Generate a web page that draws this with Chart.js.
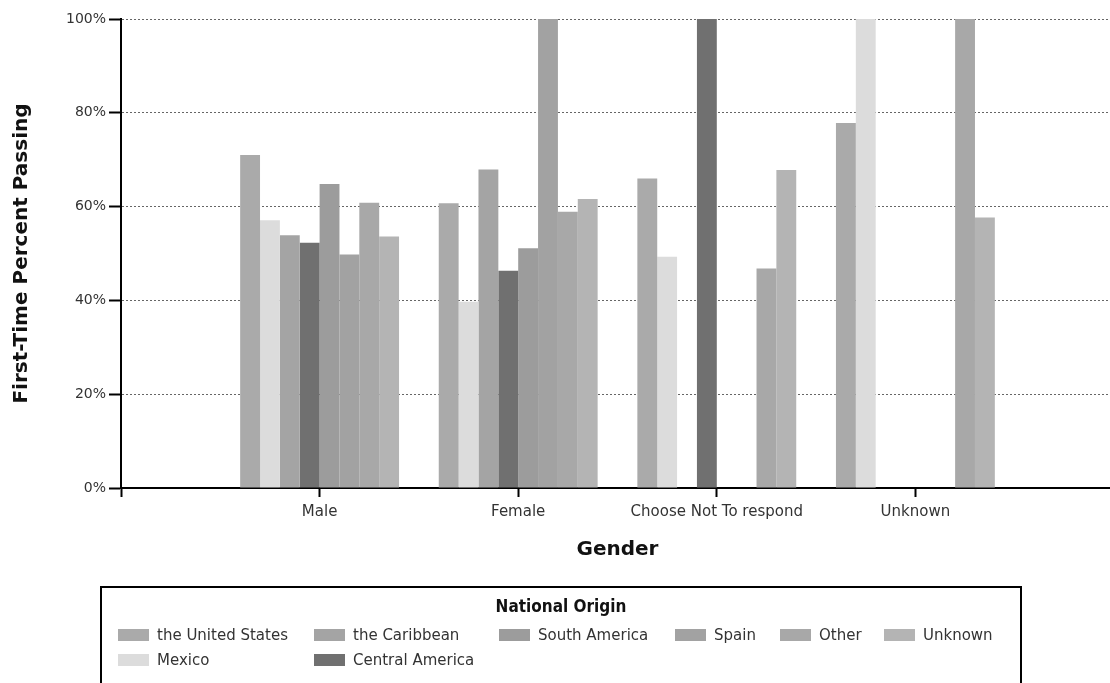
<!DOCTYPE html>
<html>
<head>
<meta charset="utf-8">
<script src="https://cdn.jsdelivr.net/npm/chart.js@4.4.1/dist/chart.umd.min.js"></script>
<style>
  html, body { margin: 0; padding: 0; background: #fff; overflow: hidden; }
  #wrap { position: relative; width: 1120px; height: 683px; }
  #legend { position: absolute; left: 100px; top: 586px; width: 918px; height: 120px;
            border: 2px solid #000; box-sizing: content-box; }
  #legend .ttl { position: absolute; left: 0; width: 100%; top: 8px; text-align: center;
            font-family: "DejaVu Sans Condensed", "Liberation Sans Narrow", "DejaVu Sans", sans-serif;
            font-weight: bold; font-size: 17px; color: #111; line-height: 20px; }
  #legend .sw { position: absolute; width: 31px; height: 12px; }
  #legend .lb { position: absolute; font-family: "DejaVu Sans", sans-serif; font-size: 15px;
            color: #333; line-height: 18px; white-space: nowrap; }
</style>
</head>
<body>
<div id="wrap">
  <canvas id="c" width="1120" height="683"></canvas>
  <div id="legend"><div class="ttl">National Origin</div></div>
</div>
<script>
// ---- data ----
const categories = ['Male', 'Female', 'Choose Not To respond', 'Unknown'];
const seriesNames = ['the United States', 'Mexico', 'the Caribbean', 'Central America',
                     'South America', 'Spain', 'Other', 'Unknown'];
const unitedStates   = [71.0, 60.7, 66.0, 77.8];
const mexico         = [57.1, 39.7, 49.3, 100];
const caribbean      = [53.9, 67.9, null, null];
const centralAmerica = [52.3, 46.3, 100, null];
const southAmerica   = [64.8, 51.1, null, null];
const spain          = [49.8, 100, null, null];
const other          = [60.8, 58.9, 46.8, 100];
const unknownOrigin  = [53.6, 61.6, 67.8, 57.7];
const yTickLabels = ['0%', '20%', '40%', '60%', '80%', '100%'];

// ---- styles ----
const seriesColors = ['#aaaaaa', '#dcdcdc', '#a4a4a4', '#707070', '#9c9c9c', '#a2a2a2', '#a8a8a8', '#b4b4b4'];

const seriesValues = [unitedStates, mexico, caribbean, centralAmerica, southAmerica, spain, other, unknownOrigin];
// pad with empty slot on both ends so categories sit one slot in from the axis
const labels = [''].concat(categories, ['']);
const datasets = seriesValues.map((vals, i) => ({
  label: seriesNames[i],
  data: [null].concat(vals, [null]),
  backgroundColor: seriesColors[i],
  borderWidth: 0,
  categoryPercentage: 0.8,
  barPercentage: 1.0
}));

new Chart(document.getElementById('c'), {
  type: 'bar',
  data: { labels: labels, datasets: datasets },
  options: {
    responsive: false,
    animation: false,
    layout: { padding: { left: 0, top: 19, right: 4, bottom: 115 } },
    plugins: { legend: { display: false }, tooltip: { enabled: false } },
    scales: {
      x: {
        type: 'category',
        offset: false,
        grid: { offset: false, drawOnChartArea: false, drawTicks: true, tickLength: 9,
                tickColor: '#000', tickWidth: 2, color: '#000' },
        border: { display: true, color: '#000', width: 2 },
        ticks: { font: { family: 'DejaVu Sans', size: 15 }, color: '#333', padding: 6,
                 maxRotation: 0, autoSkip: false },
        title: { display: true, text: 'Gender', color: '#111',
                 font: { family: 'DejaVu Sans', weight: 'bold', size: 20, lineHeight: 1.2 },
                 padding: { top: 0, bottom: 6 } },
        afterFit: (s) => { s.height = 80; }
      },
      y: {
        min: 0, max: 100,
        ticks: { stepSize: 20, callback: (v) => yTickLabels[Math.round(v / 20)],
                 font: { family: 'DejaVu Sans', size: 14 }, color: '#333', padding: 3 },
        grid: { color: (c) => (c.tick && c.tick.value === 0) ? 'rgba(0,0,0,0)' : '#666',
                lineWidth: 1, tickColor: '#000', tickLength: 12, tickWidth: 2, tickBorderDash: [] },
        border: { display: true, color: '#000', width: 2, dash: [2, 2] },
        title: { display: true, text: 'First-Time Percent Passing', color: '#111',
                 font: { family: 'DejaVu Sans', weight: 'bold', size: 20, lineHeight: 1.2 },
                 padding: { top: 10, bottom: 0 } },
        afterFit: (s) => { s.width = 121; }
      }
    }
  }
});

// ---- legend (column-major, as in the original) ----
const legend = document.getElementById('legend');
const colLeft = [16, 212, 397, 573, 678, 782];    // relative to box
const rowMid = [47, 72];
const colItems = [[0, 1], [2, 3], [4], [5], [6], [7]];
colItems.forEach((items, c) => {
  items.forEach((si, r) => {
    const sw = document.createElement('div');
    sw.className = 'sw';
    sw.style.left = colLeft[c] + 'px';
    sw.style.top = (rowMid[r] - 6) + 'px';
    sw.style.background = seriesColors[si];
    legend.appendChild(sw);
    const lb = document.createElement('div');
    lb.className = 'lb';
    lb.textContent = seriesNames[si];
    lb.style.left = (colLeft[c] + 39) + 'px';
    lb.style.top = (rowMid[r] - 9) + 'px';
    legend.appendChild(lb);
  });
});
</script>
</body>
</html>
